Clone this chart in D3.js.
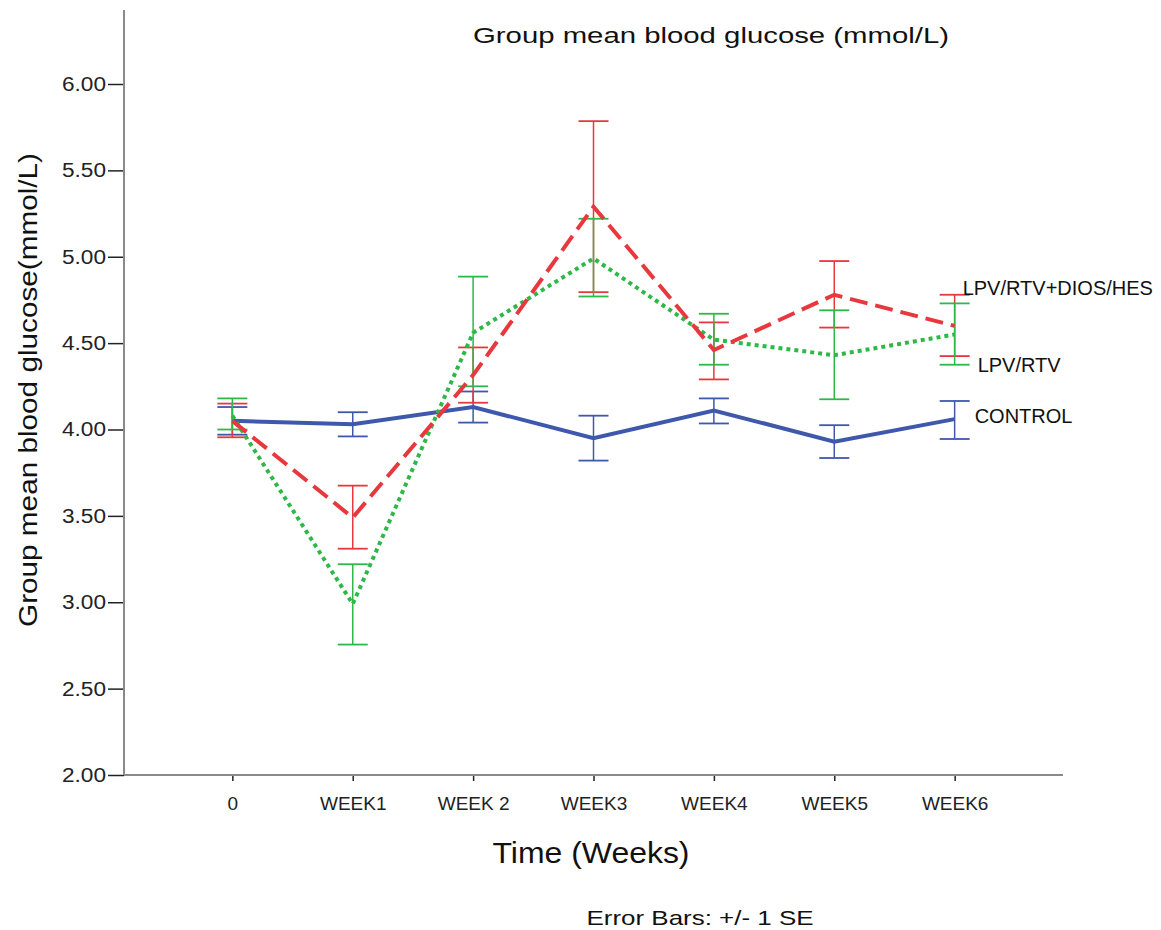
<!DOCTYPE html>
<html>
<head>
<meta charset="utf-8">
<script src="https://cdn.jsdelivr.net/npm/d3@7"></script>
<style>
  body { margin: 0; background: #fff; }
  text { font-family: "Liberation Sans", Arial, sans-serif; }
</style>
</head>
<body>
<div id="chart"></div>
<script>
// data
const weeks = ["0", "WEEK1", "WEEK 2", "WEEK3", "WEEK4", "WEEK5", "WEEK6"];

const controlMean  = [4.05, 4.03, 4.13, 3.95, 4.11, 3.93, 4.06];
const controlLow   = [3.97, 3.96, 4.04, 3.82, 4.035, 3.835, 3.945];
const controlHigh  = [4.13, 4.10, 4.22, 4.08, 4.18, 4.025, 4.165];

const diosMean     = [4.05, 3.49, 4.315, 5.29, 4.46, 4.78, 4.60];
const diosLow      = [3.955, 3.31, 4.155, 4.795, 4.29, 4.59, 4.425];
const diosHigh     = [4.15, 3.675, 4.475, 5.785, 4.62, 4.975, 4.78];

const lpvMean      = [4.08, 2.99, 4.56, 4.99, 4.52, 4.43, 4.55];
const lpvLow       = [4.00, 2.755, 4.25, 4.77, 4.375, 4.175, 4.375];
const lpvHigh      = [4.18, 3.22, 4.885, 5.22, 4.67, 4.69, 4.73];

const yTicks = [2.0, 2.5, 3.0, 3.5, 4.0, 4.5, 5.0, 5.5, 6.0];

const series = [
    {name: "CONTROL", mean: controlMean, low: controlLow, high: controlHigh, color: "#3e58ac", dash: null, labelDy: -3, labelDx: 20},
    {name: "LPV/RTV+DIOS/HES", mean: diosMean, low: diosLow, high: diosHigh, color: "#e8383d", dash: "18,8", labelDy: -38, labelDx: 8},
    {name: "LPV/RTV", mean: lpvMean, low: lpvLow, high: lpvHigh, color: "#2eb848", dash: "4,4", labelDy: 31, labelDx: 23}
];

const W = 1161, H = 930;
const svg = d3.select("#chart").append("svg")
    .attr("width", W)
    .attr("height", H);

const plotLeft = 124, plotRight = 1063, plotBottom = 775, plotTop = 84;

const x = d3.scalePoint()
    .domain(weeks)
    .range([plotLeft, plotRight])
    .padding(0.9);

const y = d3.scaleLinear()
    .domain([2, 6])
    .range([plotBottom, plotTop]);

// axes
const yAxis = svg.append("g")
    .attr("transform", "translate(" + plotLeft + ",0)")
    .call(d3.axisLeft(y).tickValues(yTicks).tickFormat(d3.format(".2f")).tickSize(16).tickPadding(2));
yAxis.select(".domain").remove();
yAxis.selectAll(".tick line").attr("stroke", "#222").attr("stroke-width", 1.5);
yAxis.selectAll(".tick text")
    .attr("font-size", 20)
    .attr("fill", "#222")
    .attr("textLength", 44)
    .attr("lengthAdjust", "spacingAndGlyphs");

const xAxis = svg.append("g")
    .attr("transform", "translate(0," + plotBottom + ")")
    .call(d3.axisBottom(x).tickSize(6).tickPadding(16));
xAxis.select(".domain").remove();
xAxis.selectAll(".tick line").attr("stroke", "#222").attr("stroke-width", 1.5);
xAxis.selectAll(".tick text").attr("font-size", 19).attr("fill", "#222");

// axis frame lines
svg.append("line")
    .attr("x1", plotLeft).attr("x2", plotLeft)
    .attr("y1", 10).attr("y2", plotBottom)
    .attr("stroke", "#8a8a8a").attr("stroke-width", 2);
svg.append("line")
    .attr("x1", plotLeft).attr("x2", plotRight)
    .attr("y1", plotBottom).attr("y2", plotBottom)
    .attr("stroke", "#8a8a8a").attr("stroke-width", 2);

// error bars
const capHalf = 15;
series.forEach(function(s) {
    const g = svg.append("g").attr("class", "errbars");
    weeks.forEach(function(w, i) {
        const cx = x(w);
        g.append("line")
            .attr("x1", cx).attr("x2", cx)
            .attr("y1", y(s.low[i])).attr("y2", y(s.high[i]))
            .attr("stroke", s.color).attr("stroke-width", 1.5);
        [s.low[i], s.high[i]].forEach(function(v) {
            g.append("line")
                .attr("x1", cx - capHalf).attr("x2", cx + capHalf)
                .attr("y1", y(v)).attr("y2", y(v))
                .attr("stroke", s.color).attr("stroke-width", 1.8);
        });
    });
});

// mean lines
const line = d3.line()
    .x(function(d, i) { return x(weeks[i]); })
    .y(function(d) { return y(d); });

[series[0], series[2], series[1]].forEach(function(s) {
    const p = svg.append("path")
        .datum(s.mean)
        .attr("d", line)
        .attr("fill", "none")
        .attr("stroke", s.color)
        .attr("stroke-width", 4);
    if (s.dash) p.attr("stroke-dasharray", s.dash);
});

// series labels at the last point
series.forEach(function(s) {
    const last = s.mean.length - 1;
    svg.append("text")
        .attr("x", x(weeks[last]) + s.labelDx)
        .attr("y", y(s.mean[last]) + s.labelDy)
        .attr("dy", "0.35em")
        .attr("font-size", 20)
        .attr("fill", "#111")
        .text(s.name);
});

// titles
svg.append("text")
    .attr("x", 711).attr("y", 43)
    .attr("text-anchor", "middle")
    .attr("font-family", "'DejaVu Sans', sans-serif")
    .attr("font-size", 22)
    .attr("fill", "#111")
    .attr("textLength", 476)
    .attr("lengthAdjust", "spacingAndGlyphs")
    .text("Group mean blood glucose (mmol/L)");

svg.append("text")
    .attr("transform", "translate(28,390) rotate(-90)")
    .attr("dy", "0.35em")
    .attr("text-anchor", "middle")
    .attr("font-size", 26)
    .attr("fill", "#111")
    .attr("textLength", 474)
    .attr("lengthAdjust", "spacingAndGlyphs")
    .text("Group mean blood glucose(mmol/L)");

svg.append("text")
    .attr("x", 591).attr("y", 863)
    .attr("text-anchor", "middle")
    .attr("font-size", 30)
    .attr("fill", "#111")
    .attr("textLength", 197)
    .attr("lengthAdjust", "spacingAndGlyphs")
    .text("Time (Weeks)");

svg.append("text")
    .attr("x", 700).attr("y", 925)
    .attr("text-anchor", "middle")
    .attr("font-size", 21)
    .attr("fill", "#111")
    .attr("textLength", 227)
    .attr("lengthAdjust", "spacingAndGlyphs")
    .text("Error Bars: +/- 1 SE");
</script>
</body>
</html>
